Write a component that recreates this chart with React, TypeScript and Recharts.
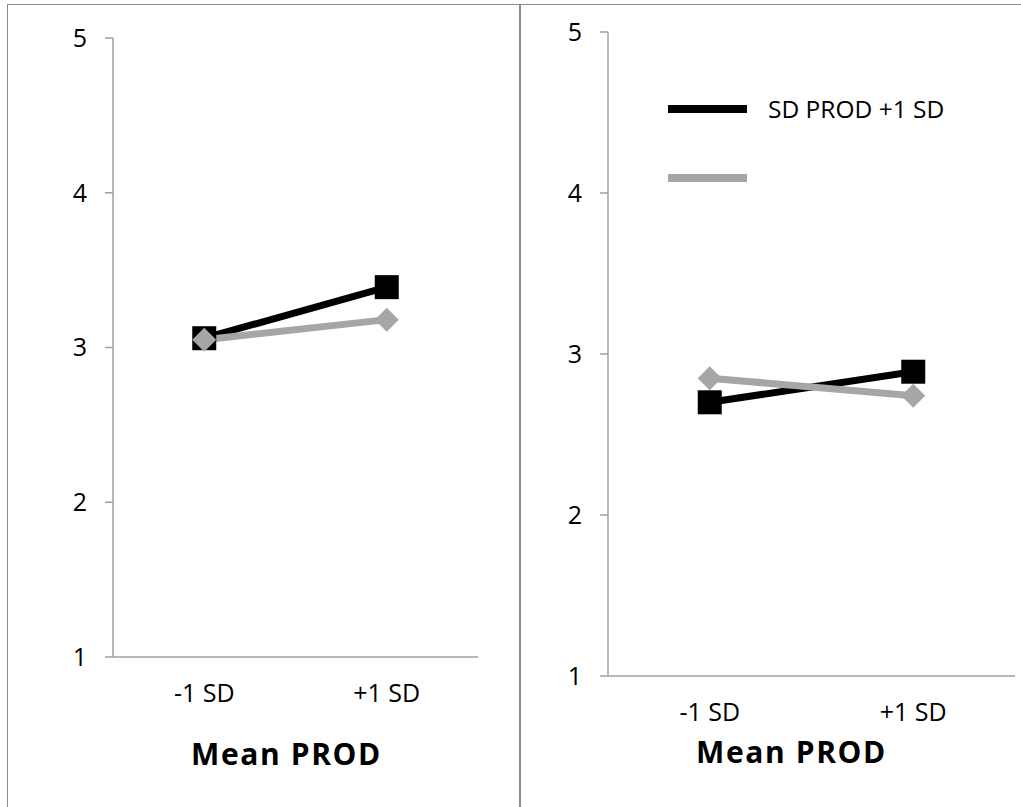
import React from 'react';
import { LineChart, Line, XAxis, YAxis, Legend } from 'recharts';

const categories = ['-1 SD', '+1 SD'];
const leftHigh = [3.06, 3.39];
const leftLow = [3.05, 3.18];
const rightHigh = [2.7, 2.89];
const rightLow = [2.85, 2.74];
const yTicks = [1, 2, 3, 4, 5];
const legendLabels = ['SD PROD +1 SD', ''];
const axisTitle = 'Mean PROD';

const BLACK = '#000000';
const GREY = '#a6a6a6';
const AXIS = '#a0a0a0';
const FONT = '"Open Sans", sans-serif';

const build = (high: number[], low: number[]) =>
    categories.map((c, i) => ({ cat: c, high: high[i], low: low[i] }));

const leftData = build(leftHigh, leftLow);
const rightData = build(rightHigh, rightLow);

function SquareDot(props: any) {
    const { cx, cy, index } = props;
    if (cx == null || cy == null) return null;
    return <rect key={`sq-${index}`} x={cx - 12} y={cy - 12} width={24} height={24} fill={BLACK} />;
}

function DiamondDot(props: any) {
    const { cx, cy, index } = props;
    if (cx == null || cy == null) return null;
    const r = 12;
    return (
        <polygon
            key={`dm-${index}`}
            points={`${cx},${cy - r} ${cx + r},${cy} ${cx},${cy + r} ${cx - r},${cy}`}
            fill={GREY}
        />
    );
}

function LineLegend() {
    const colors = [BLACK, GREY];
    return (
        <svg width={330} height={100} style={{ display: 'block', overflow: 'visible' }}>
            {legendLabels.map((label, i) => (
                <g key={i}>
                    <line x1={0} x2={79} y1={10 + i * 69} y2={10 + i * 69} stroke={colors[i]} strokeWidth={8} />
                    <text x={100} y={10 + i * 69} dy="0.35em" fontFamily={FONT} fontSize={24.5} fill="#000">
                        {label}
                    </text>
                </g>
            ))}
        </svg>
    );
}

const tickStyle = { fill: '#000', fontSize: 25, fontFamily: FONT };

function Panel({ data, width, height, margin, yWidth, xHeight, titleOffset, titleDx, legend }: any) {
    return (
        <LineChart width={width} height={height} data={data} margin={margin}>
            <XAxis
                dataKey="cat"
                scale="band"
                height={xHeight}
                axisLine={{ stroke: AXIS, strokeWidth: 1.5 }}
                tickLine={false}
                tickSize={0}
                tickMargin={27}
                tick={tickStyle}
                label={{
                    value: axisTitle,
                    position: 'insideBottom',
                    offset: titleOffset,
                    dx: titleDx,
                    style: { fontSize: 30, fontWeight: 700, fontFamily: FONT, fill: '#000', letterSpacing: 1.6 },
                }}
            />
            <YAxis
                domain={[1, 5]}
                ticks={yTicks}
                width={yWidth}
                axisLine={{ stroke: AXIS, strokeWidth: 1.5 }}
                tickLine={{ stroke: AXIS, strokeWidth: 1.5 }}
                tickSize={8}
                tickMargin={18}
                tick={tickStyle}
            />
            {legend && (
                <Legend
                    layout="vertical"
                    verticalAlign="middle"
                    align="center"
                    content={() => <LineLegend />}
                    wrapperStyle={{ top: 99, left: 148, width: 330, height: 100 }}
                />
            )}
            <Line
                dataKey="high"
                name={legendLabels[0]}
                stroke={BLACK}
                strokeWidth={7}
                dot={SquareDot}
                activeDot={false}
                isAnimationActive={false}
            />
            <Line
                dataKey="low"
                name={legendLabels[1]}
                stroke={GREY}
                strokeWidth={7}
                dot={DiamondDot}
                activeDot={false}
                isAnimationActive={false}
            />
        </LineChart>
    );
}

export default function App() {
    return (
        <div style={{ position: 'absolute', left: 0, top: 0, width: 1021, height: 807, background: '#fff', overflow: 'hidden' }}>
            <div style={{ position: 'absolute', left: 7, top: 4, width: 512, height: 820, border: '1.5px solid #8c8c8c' }} />
            <div style={{ position: 'absolute', left: 519, top: 4, width: 520, height: 820, border: '1.5px solid #8c8c8c' }} />
            <div style={{ position: 'absolute', left: 0, top: 0 }}>
                <Panel
                    data={leftData}
                    width={519}
                    height={807}
                    margin={{ top: 38, right: 41, left: 0, bottom: 40 }}
                    yWidth={113}
                    xHeight={110}
                    titleOffset={2}
                    titleDx={-9}
                />
            </div>
            <div style={{ position: 'absolute', left: 520, top: 0 }}>
                <Panel
                    data={rightData}
                    width={501}
                    height={807}
                    margin={{ top: 32, right: 6, left: 0, bottom: 31 }}
                    yWidth={88}
                    xHeight={100}
                    titleOffset={13}
                    titleDx={-20}
                    legend
                />
            </div>
        </div>
    );
}
